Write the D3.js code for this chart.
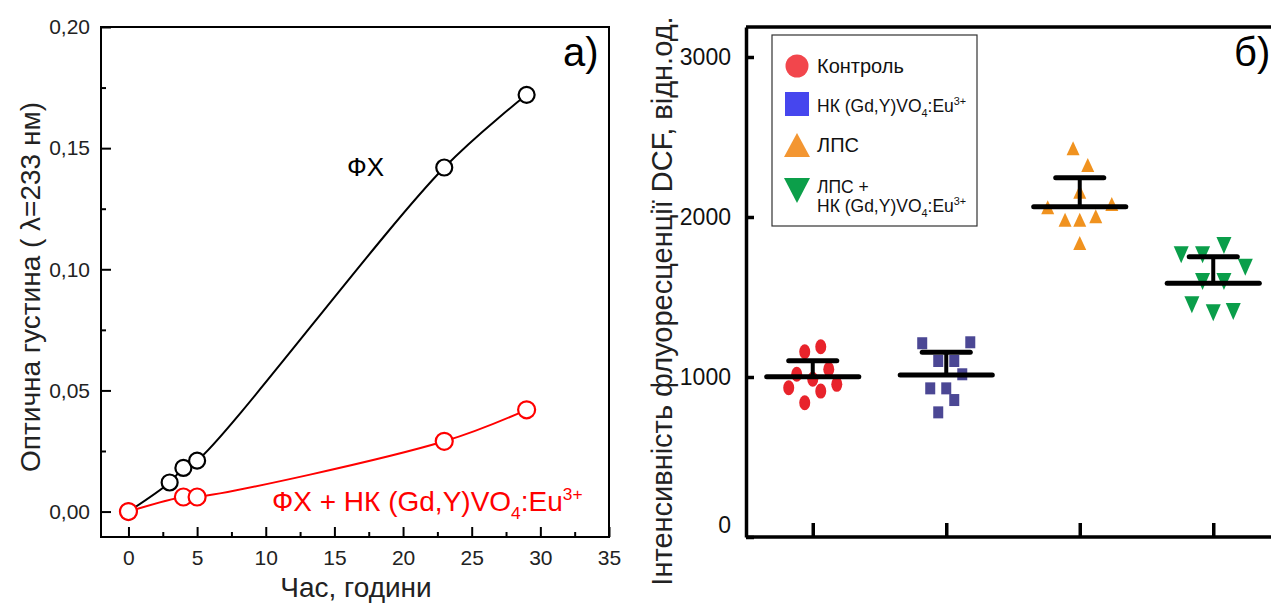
<!DOCTYPE html>
<html>
<head>
<meta charset="utf-8">
<script src="https://cdn.jsdelivr.net/npm/d3@7"></script>
<style>
  body { margin: 0; background: #fff; }
  svg { display: block; font-family: "Liberation Sans", Arial, sans-serif; }
</style>
</head>
<body>
<div id="chart"></div>
<script>
// panel a) - optical density vs time
const hoursFx = [0, 3, 4, 5, 23, 29]
const densityFx = [0, 0.012, 0.018, 0.021, 0.142, 0.172]
const hoursFxNk = [0, 4, 5, 23, 29]
const densityFxNk = [0, 0.006, 0.006, 0.029, 0.042]
const xTicksA = [0, 5, 10, 15, 20, 25, 30, 35]
const yTicksA = [0, 0.05, 0.10, 0.15, 0.20]

// panel б) - DCF fluorescence per group
const groups = ["Контроль", "НК (Gd,Y)VO4:Eu3+", "ЛПС", "ЛПС + НК (Gd,Y)VO4:Eu3+"]
const controlVals = [1158, 1189, 1048, 1017, 986, 933, 912, 954, 839]
const controlJitter = [-0.06, 0.06, 0.12, -0.12, 0, -0.18, 0.06, 0.18, -0.06]
const nkVals = [1211, 1217, 1100, 1100, 1017, 929, 929, 856, 779]
const nkJitter = [-0.18, 0.18, -0.06, 0.06, 0.12, -0.12, 0, 0.06, -0.06]
const lpsVals = [2423, 2319, 2152, 2054, 2075, 1977, 1977, 1998, 1831]
const lpsJitter = [-0.05, 0.06, 0, -0.24, 0.24, -0.11, 0, 0.12, 0]
const lpsNkVals = [1767, 1767, 1825, 1689, 1600, 1600, 1454, 1404, 1413]
const lpsNkJitter = [-0.24, -0.08, 0.08, 0.24, -0.08, 0.08, -0.16, 0, 0.15]
const groupMeans = [1002, 1012, 2064, 1586]
const groupErrs = [100, 142, 182, 166]
const yTicksB = [0, 1000, 2000, 3000]

const width = 1271, height = 605

const svg = d3.select("#chart").append("svg")
    .attr("width", width)
    .attr("height", height)

// writes text with sub/superscripts: parts = [[str, "n"|"sub"|"sup"], ...]
function richText(sel, parts, size) {
  let shift = 0
  parts.forEach(p => {
    let target = p[1] === "sub" ? size * 0.3 : p[1] === "sup" ? -size * 0.38 : 0
    sel.append("tspan")
      .attr("dy", target - shift)
      .style("font-size", p[1] === "n" ? size + "px" : (size * 0.62) + "px")
      .text(p[0])
    shift = target
  })
}

// ---------- panel a) ----------
const xA = d3.scaleLinear().domain([-2, 35]).range([101, 609])
const yA = d3.scaleLinear().domain([-0.0105, 0.2]).range([537, 27])
const comma = v => d3.format(".2f")(v).replace(".", ",")

const gA = svg.append("g")

gA.append("rect")
    .attr("x", xA.range()[0]).attr("y", yA.range()[1])
    .attr("width", xA.range()[1] - xA.range()[0])
    .attr("height", yA.range()[0] - yA.range()[1])
    .attr("fill", "none").attr("stroke", "#000").attr("stroke-width", 2)

const axA_x = gA.append("g").attr("transform", `translate(0,${yA.range()[0]})`)
    .call(d3.axisBottom(xA).tickValues(xTicksA).tickSizeInner(-10).tickSizeOuter(0).tickPadding(13))
const axA_xm = gA.append("g").attr("transform", `translate(0,${yA.range()[0]})`)
    .call(d3.axisBottom(xA).tickValues(d3.range(2.5, 35, 5)).tickSize(-5).tickFormat(""))
const axA_y = gA.append("g").attr("transform", `translate(${xA.range()[0]},0)`)
    .call(d3.axisLeft(yA).tickValues(yTicksA).tickFormat(comma).tickSizeInner(-10).tickSizeOuter(0).tickPadding(11))
const axA_ym = gA.append("g").attr("transform", `translate(${xA.range()[0]},0)`)
    .call(d3.axisLeft(yA).tickValues(d3.range(0.025, 0.2, 0.05)).tickSize(-5).tickFormat(""))

;[axA_x, axA_xm, axA_y, axA_ym].forEach(a => {
  a.attr("font-size", null).attr("font-family", null)
  a.select(".domain").remove()
  a.selectAll("line").attr("stroke", "#000").attr("stroke-width", 2)
  a.selectAll("text").attr("fill", "#222").style("font-size", "21px")
})

const lineA = d3.line().x(d => xA(d[0])).y(d => yA(d[1])).curve(d3.curveCatmullRom.alpha(0.5))
const fxPts = hoursFx.map((h, i) => [h, densityFx[i]])
const fxNkPts = hoursFxNk.map((h, i) => [h, densityFxNk[i]])

gA.append("path").datum(fxPts).attr("d", lineA)
    .attr("fill", "none").attr("stroke", "#000").attr("stroke-width", 2)
gA.selectAll(".ptFx").data(fxPts).enter().append("circle")
    .attr("cx", d => xA(d[0])).attr("cy", d => yA(d[1])).attr("r", 8)
    .attr("fill", "#fff").attr("stroke", "#000").attr("stroke-width", 2.2)

gA.append("path").datum(fxNkPts).attr("d", lineA)
    .attr("fill", "none").attr("stroke", "#ff0000").attr("stroke-width", 2)
gA.selectAll(".ptNk").data(fxNkPts).enter().append("circle")
    .attr("cx", d => xA(d[0])).attr("cy", d => yA(d[1])).attr("r", 8.5)
    .attr("fill", "#fff").attr("stroke", "#ff0000").attr("stroke-width", 2.2)

gA.append("text").attr("x", 347).attr("y", 176)
    .style("font-size", "26px").attr("fill", "#000").text("ФХ")

const redLbl = gA.append("text").attr("x", 272).attr("y", 511).attr("fill", "#ff0000")
richText(redLbl, [["ФХ + НК (Gd,Y)VO", "n"], ["4", "sub"], [":Eu", "n"], ["3+", "sup"]], 28)

gA.append("text").attr("x", 563).attr("y", 66)
    .style("font-size", "40px").attr("fill", "#000").text("а)")

gA.append("text").attr("transform", `translate(40,${287}) rotate(-90)`)
    .attr("text-anchor", "middle").style("font-size", "28px").attr("fill", "#222")
    .text("Оптична густина ( λ=233 нм)")
gA.append("text").attr("x", 356).attr("y", 597)
    .attr("text-anchor", "middle").style("font-size", "28px").attr("fill", "#222")
    .text("Час, години")

// ---------- panel б) ----------
const xB = d3.scaleLinear().domain([0.5, 4.5]).range([746, 1280])
const yB = d3.scaleLinear().domain([0, 3187.5]).range([537, 27])

const gB = svg.append("g")

gB.append("line").attr("x1", xB.range()[0]).attr("x2", width)
    .attr("y1", yB.range()[1]).attr("y2", yB.range()[1])
    .attr("stroke", "#000").attr("stroke-width", 3.5)

const axB_x = gB.append("g").attr("transform", `translate(0,${yB.range()[0]})`)
    .call(d3.axisBottom(xB).tickValues([1, 2, 3, 4]).tickSizeInner(-14).tickSizeOuter(0).tickFormat(""))
const axB_y = gB.append("g").attr("transform", `translate(${xB.range()[0]},0)`)
    .call(d3.axisLeft(yB).tickValues(yTicksB).tickFormat(d3.format("d")).tickSizeInner(-8).tickSizeOuter(0).tickPadding(15))

;[axB_x, axB_y].forEach(a => {
  a.attr("font-size", null).attr("font-family", null)
  a.select(".domain").attr("stroke", "#000").attr("stroke-width", 3.5)
  a.selectAll("line").attr("stroke", "#000").attr("stroke-width", 3.5)
  a.selectAll("text").attr("fill", "#111").style("font-size", "23px")
})
axB_y.selectAll(".tick").filter(d => d === 0).select("text").attr("dy", "-0.2em")
axB_x.select(".domain").attr("d", `M${xB.range()[0]},0H${width}`)

const markColors = ["#e8232b", "#4b4794", "#f0921f", "#0a9e4a"]
const legendColors = ["#f2464c", "#4646ee", "#f39632", "#0c9f4a"]

const symbols = [
  (g, x, y, c) => g.append("ellipse").attr("cx", x).attr("cy", y).attr("rx", 5.5).attr("ry", 7.5).attr("fill", c),
  (g, x, y, c) => g.append("rect").attr("x", x - 5).attr("y", y - 6).attr("width", 10).attr("height", 12).attr("fill", c),
  (g, x, y, c) => g.append("path").attr("d", `M${x},${y - 8}L${x + 6.5},${y + 6}L${x - 6.5},${y + 6}Z`).attr("fill", c),
  (g, x, y, c) => g.append("path").attr("d", `M${x - 7.5},${y - 8}L${x + 7.5},${y - 8}L${x},${y + 9}Z`).attr("fill", c)
]

const allVals = [controlVals, nkVals, lpsVals, lpsNkVals]
const allJitter = [controlJitter, nkJitter, lpsJitter, lpsNkJitter]

allVals.forEach((vals, gi) => {
  const g = gB.append("g").attr("class", "group")
  vals.forEach((v, i) => {
    symbols[gi](g, xB(gi + 1 + allJitter[gi][i]), yB(v), markColors[gi])
  })
  const cx = xB(gi + 1)
  const m = groupMeans[gi], e = groupErrs[gi]
  g.append("line").attr("x1", xB(gi + 1 - 0.345)).attr("x2", xB(gi + 1 + 0.345))
      .attr("y1", yB(m)).attr("y2", yB(m))
      .attr("stroke", "#000").attr("stroke-width", 5).attr("stroke-linecap", "round")
  g.append("line").attr("x1", cx).attr("x2", cx)
      .attr("y1", yB(m)).attr("y2", yB(m + e))
      .attr("stroke", "#000").attr("stroke-width", 4)
  g.append("line").attr("x1", xB(gi + 1 - 0.18)).attr("x2", xB(gi + 1 + 0.18))
      .attr("y1", yB(m + e)).attr("y2", yB(m + e))
      .attr("stroke", "#000").attr("stroke-width", 5).attr("stroke-linecap", "round")
})

// legend
const leg = gB.append("g")
leg.append("rect").attr("x", 772).attr("y", 35).attr("width", 205).attr("height", 191)
    .attr("fill", "#fff").attr("stroke", "#333").attr("stroke-width", 1.2)
const legRows = [66, 104, 146, 190]
leg.append("circle").attr("cx", 797).attr("cy", legRows[0]).attr("r", 11.5).attr("fill", legendColors[0])
leg.append("rect").attr("x", 785).attr("y", legRows[1] - 12).attr("width", 24).attr("height", 24).attr("fill", legendColors[1])
leg.append("path").attr("d", `M797,${legRows[2] - 13}L810,${legRows[2] + 11}L784,${legRows[2] + 11}Z`).attr("fill", legendColors[2])
leg.append("path").attr("d", `M784,${legRows[3] - 12}L810,${legRows[3] - 12}L797,${legRows[3] + 13}Z`).attr("fill", legendColors[3])

leg.append("text").attr("x", 817).attr("y", 73).style("font-size", "20px").attr("fill", "#111").text(groups[0])
richText(leg.append("text").attr("x", 817).attr("y", 112).attr("fill", "#111"),
    [["НК (Gd,Y)VO", "n"], ["4", "sub"], [":Eu", "n"], ["3+", "sup"]], 17.5)
leg.append("text").attr("x", 817).attr("y", 152).style("font-size", "20px").attr("fill", "#111").text(groups[2])
leg.append("text").attr("x", 817).attr("y", 193).style("font-size", "17.5px").attr("fill", "#111").text("ЛПС +")
richText(leg.append("text").attr("x", 817).attr("y", 212).attr("fill", "#111"),
    [["НК (Gd,Y)VO", "n"], ["4", "sub"], [":Eu", "n"], ["3+", "sup"]], 17.5)

gB.append("text").attr("x", 1234).attr("y", 66)
    .style("font-size", "40px").attr("fill", "#000").text("б)")

gB.append("text").attr("transform", `translate(672,${301}) rotate(-90)`)
    .attr("text-anchor", "middle").style("font-size", "29px").attr("fill", "#222")
    .text("Інтенсивність флуоресценції DCF, відн.од.")
</script>
</body>
</html>
